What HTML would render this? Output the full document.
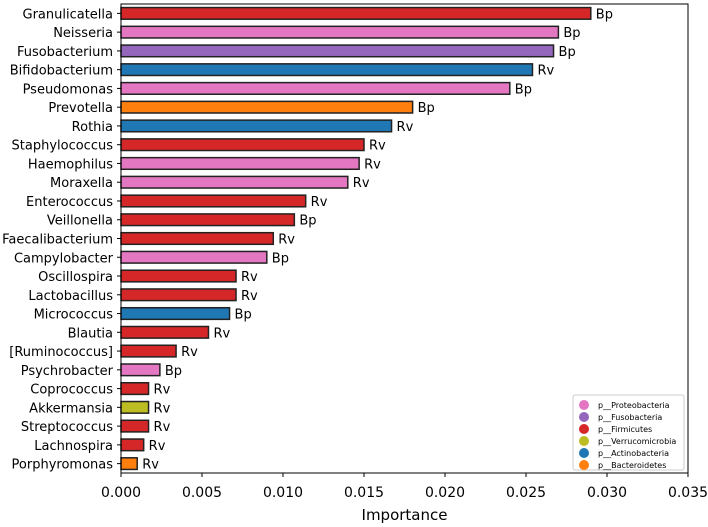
<!DOCTYPE html>
<html><head><meta charset="utf-8"><style>
body{margin:0;background:#fff}
svg{display:block;font-family:"DejaVu Sans","Liberation Sans",sans-serif}
</style></head><body>
<svg id="c" width="708" height="527"></svg>
<script>
const categories=["Granulicatella","Neisseria","Fusobacterium","Bifidobacterium","Pseudomonas","Prevotella","Rothia","Staphylococcus","Haemophilus","Moraxella","Enterococcus","Veillonella","Faecalibacterium","Campylobacter","Oscillospira","Lactobacillus","Micrococcus","Blautia","[Ruminococcus]","Psychrobacter","Coprococcus","Akkermansia","Streptococcus","Lachnospira","Porphyromonas"];
const values=[0.029,0.027,0.0267,0.0254,0.024,0.018,0.0167,0.015,0.0147,0.014,0.0114,0.0107,0.0094,0.009,0.0071,0.0071,0.0067,0.0054,0.0034,0.0024,0.0017,0.0017,0.0017,0.0014,0.001];
const phyla=["F","P","U","A","P","B","A","F","P","P","F","F","F","P","F","F","A","F","F","P","F","V","F","F","B"];
const tags=["Bp","Bp","Bp","Rv","Bp","Bp","Rv","Rv","Rv","Rv","Rv","Bp","Rv","Bp","Rv","Rv","Bp","Rv","Rv","Bp","Rv","Rv","Rv","Rv","Rv"];
const ticks=[0,0.005,0.01,0.015,0.02,0.025,0.03,0.035];
const legendNames=["p__Proteobacteria","p__Fusobacteria","p__Firmicutes","p__Verrucomicrobia","p__Actinobacteria","p__Bacteroidetes"];
const legendKeys=["P","U","F","V","A","B"];
const colors={P:"#e377c2",U:"#9467bd",F:"#d62728",V:"#bcbd22",A:"#1f77b4",B:"#ff7f0e"};
const L=121,R=688,T=4,B=473,N=categories.length;
const x=v=>L+v/0.035*(R-L);
const step=(B-T)/N;
const y=i=>T+step*(i+0.5);
const svg=document.getElementById('c');
const NS="http://www.w3.org/2000/svg";
function mk(t,a,txt){const e=document.createElementNS(NS,t);for(const k in a)e.setAttribute(k,a[k]);if(txt!=null)e.textContent=txt;svg.appendChild(e);return e;}
categories.forEach((c,i)=>{
 const cy=y(i),h=step*0.62;
 const r=mk('rect',{x:x(0),y:cy-h/2,width:x(values[i])-x(0),height:h,fill:colors[phyla[i]],stroke:"#222","stroke-width":1.5});
 
 
 const t=mk('text',{x:x(values[i])+5,y:cy+5,"font-size":13,fill:"#000"},tags[i]);
 
 
 const lb=mk('text',{x:L-8,y:cy+5,"font-size":13,"text-anchor":"end"},c);
 
 
 mk('line',{x1:L-4,x2:L,y1:cy,y2:cy,stroke:"#000"});
});
ticks.forEach(v=>{
 mk('line',{x1:x(v),x2:x(v),y1:B,y2:B+4,stroke:"#000"});
 const t=mk('text',{x:x(v),y:B+24,"font-size":14,"text-anchor":"middle"},v.toFixed(3));
 
 
});
const fr=mk('rect',{x:L,y:T,width:R-L,height:B-T,fill:"none",stroke:"#000","stroke-width":1});


const xt=mk('text',{x:(L+R)/2,y:520,"font-size":15,"text-anchor":"middle"},"Importance");


const lg=mk('rect',{x:573,y:395,width:111,height:75,fill:"#fff",stroke:"#ccc",rx:2});


legendNames.forEach((n,i)=>{
 const ly=405+i*12;
 mk('circle',{cx:584,cy:ly,r:5,fill:colors[legendKeys[i]]});
 const t=mk('text',{x:598,y:ly+3,"font-size":8},n);
 
 
});
</script>
</body></html>
